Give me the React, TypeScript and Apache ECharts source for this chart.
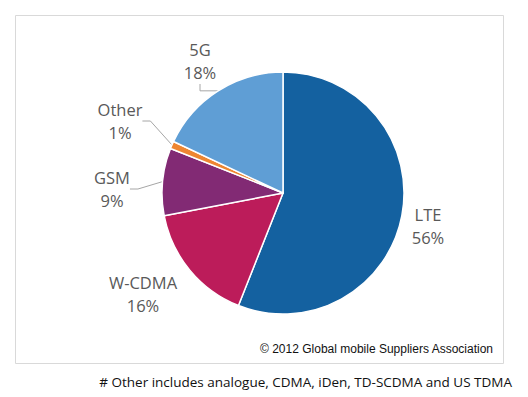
import React, { useEffect, useRef } from "react";
import * as echarts from "echarts";

const categories = ["LTE", "W-CDMA", "GSM", "Other", "5G"];
const shares = [56, 16, 9, 1, 18];
const colors = ["#1461a0", "#bc1c5a", "#822a74", "#ee8632", "#5f9ed5"];
const labelPos: [number, number][] = [
  [428, 226],
  [143, 294],
  [112, 189],
  [120, 121],
  [200, 61],
];
const showLine = [false, false, true, true, true];
const copyright = "© 2012 Global mobile Suppliers Association";
const footnote = "# Other includes analogue, CDMA, iDen, TD-SCDMA and US TDMA";

export default function App() {
  const ref = useRef<HTMLDivElement>(null);
  useEffect(() => {
    if (!ref.current) return;
    const chart = echarts.init(ref.current, undefined, { renderer: "svg" });
    const font = "'Open Sans', sans-serif";
    chart.setOption({
      animation: false,
      backgroundColor: "#ffffff",
      graphic: [
        {
          type: "rect",
          shape: { x: 15.5, y: 15.5, width: 488, height: 348 },
          style: { fill: "none", stroke: "#d9d9d9", lineWidth: 1 },
          z: 0,
        },
        {
          type: "text",
          x: 493,
          y: 349,
          style: {
            text: copyright,
            fontFamily: "'Liberation Sans', Arial, sans-serif",
            fontSize: 12,
            fill: "#111111",
            align: "right",
            verticalAlign: "middle",
          },
        },
        {
          type: "text",
          x: 512,
          y: 382,
          style: {
            text: footnote,
            fontFamily: font,
            fontSize: 13.5,
            fill: "#111111",
            align: "right",
            verticalAlign: "middle",
          },
        },
      ],
      series: [
        {
          type: "pie",
          center: [283, 193],
          radius: 121,
          startAngle: 90,
          clockwise: true,
          avoidLabelOverlap: false,
          itemStyle: { borderColor: "#ffffff", borderWidth: 1.5 },
          label: {
            show: true,
            position: "outside",
            formatter: (p: any) => `${p.name}\n${p.value}%`,
            fontFamily: font,
            fontSize: 16.5,
            lineHeight: 23,
            color: "#595959",
            align: "center",
          },
          labelLine: {
            show: true,
            length: 8,
            length2: 8,
            lineStyle: { color: "#a6a6a6", width: 1 },
          },
          labelLayout: (p: any) => {
            const [x, y] = labelPos[p.dataIndex];
            return { x, y, align: "center", verticalAlign: "middle" };
          },
          data: categories.map((name, i) => ({
            name,
            value: shares[i],
            itemStyle: { color: colors[i] },
            labelLine: { show: showLine[i] },
          })),
        },
      ],
    });
    return () => chart.dispose();
  }, []);
  return (
    <div
      ref={ref}
      style={{ position: "absolute", left: 0, top: 0, width: 528, height: 397 }}
    />
  );
}
